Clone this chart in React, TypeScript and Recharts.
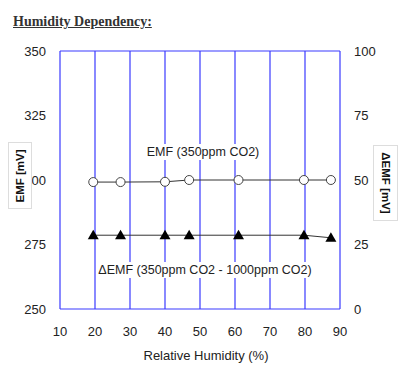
import {
  ComposedChart,
  Line,
  XAxis,
  YAxis,
  CartesianGrid,
} from "recharts"

const humidity = [19.5, 27.3, 40, 46.9, 61, 79.7, 87.4]
const emf = [299.2, 299.2, 299.3, 300, 300, 300, 300]
const deltaEmf = [28.6, 28.6, 28.6, 28.6, 28.6, 28.6, 27.6]

const xTicks = [10, 20, 30, 40, 50, 60, 70, 80, 90]
const leftTicks = [250, 275, 300, 325, 350]
const rightTicks = [0, 25, 50, 75, 100]

const data = humidity.map((h, i) => ({ rh: h, emf: emf[i], delta: deltaEmf[i] }))

const BLUE = "#3a3aff"
const FONT = "'Liberation Sans', Arial, sans-serif"

function Triangle(props: any) {
  const { cx, cy } = props
  if (cx == null || cy == null) return null
  return (
    <path
      key={`t-${cx}`}
      d={`M${cx},${cy - 5.5} L${cx + 5.5},${cy + 4} L${cx - 5.5},${cy + 4} Z`}
      fill="#000"
    />
  )
}

const boxStyle = {
  position: "absolute" as const,
  background: "#fff",
  border: "1px solid #ddd",
  display: "flex",
  alignItems: "center",
  justifyContent: "center",
  fontFamily: FONT,
  fontSize: 11.5,
  fontWeight: 700,
  color: "#111",
  boxSizing: "border-box" as const,
}

const noteStyle = {
  position: "absolute" as const,
  transform: "translate(-50%, -50%)",
  fontFamily: FONT,
  fontSize: 12.5,
  color: "#222",
  whiteSpace: "nowrap" as const,
  background: "#fff",
  padding: "1px 2px",
}

export default function App() {
  return (
    <div style={{ position: "fixed", left: 0, top: 0, width: 409, height: 372, background: "#fff" }}>
      <div
        style={{
          position: "absolute",
          left: 13,
          top: 14,
          fontFamily: "'Liberation Serif', 'DejaVu Serif', serif",
          fontWeight: 700,
          fontSize: 14,
          textDecoration: "underline",
          color: "#333",
        }}
      >
        Humidity Dependency:
      </div>
      <ComposedChart
        width={409}
        height={372}
        data={data}
        margin={{ top: 51, right: 17, bottom: 0, left: 8 }}
        style={{ position: "absolute", left: 0, top: 0 }}
      >
        <CartesianGrid stroke={BLUE} strokeWidth={1.2} />
        <XAxis
          dataKey="rh"
          type="number"
          domain={[10, 90]}
          ticks={xTicks}
          axisLine={false}
          tickLine={false}
          tickMargin={12}
          height={63}
          tick={{ fill: "#222", fontSize: 13, fontFamily: FONT }}
          label={{
            value: "Relative Humidity (%)",
            position: "insideBottom",
            offset: 12,
            dx: 6,
            fill: "#222",
            fontSize: 13,
            fontFamily: FONT,
          }}
        />
        <YAxis
          yAxisId="left"
          domain={[250, 350]}
          ticks={leftTicks}
          axisLine={false}
          tickLine={false}
          tickMargin={8}
          width={52}
          tick={{ fill: "#222", fontSize: 13, fontFamily: FONT }}
        />
        <YAxis
          yAxisId="right"
          orientation="right"
          domain={[0, 100]}
          ticks={rightTicks}
          axisLine={false}
          tickLine={false}
          tickMargin={8}
          width={52}
          tick={{ fill: "#222", fontSize: 13, fontFamily: FONT, textAnchor: "start" }}
        />
        <Line
          yAxisId="left"
          dataKey="emf"
          type="linear"
          stroke="#333"
          strokeWidth={1}
          dot={{ r: 4.5, fill: "#fff", stroke: "#444", strokeWidth: 1 }}
          isAnimationActive={false}
        />
        <Line
          yAxisId="right"
          dataKey="delta"
          type="linear"
          stroke="#333"
          strokeWidth={1}
          dot={<Triangle />}
          isAnimationActive={false}
        />
      </ComposedChart>
      <div style={{ ...noteStyle, left: 203, top: 152 }}>EMF (350ppm CO2)</div>
      <div style={{ ...noteStyle, left: 205, top: 270 }}>ΔEMF (350ppm CO2 - 1000ppm CO2)</div>
      <div style={{ ...boxStyle, left: 8, top: 142, width: 24, height: 67 }}>
        <span style={{ transform: "rotate(-90deg)", whiteSpace: "nowrap" }}>EMF [mV]</span>
      </div>
      <div style={{ ...boxStyle, left: 373, top: 145, width: 25, height: 76 }}>
        <span style={{ transform: "rotate(90deg)", whiteSpace: "nowrap" }}>ΔEMF [mV]</span>
      </div>
    </div>
  )
}
